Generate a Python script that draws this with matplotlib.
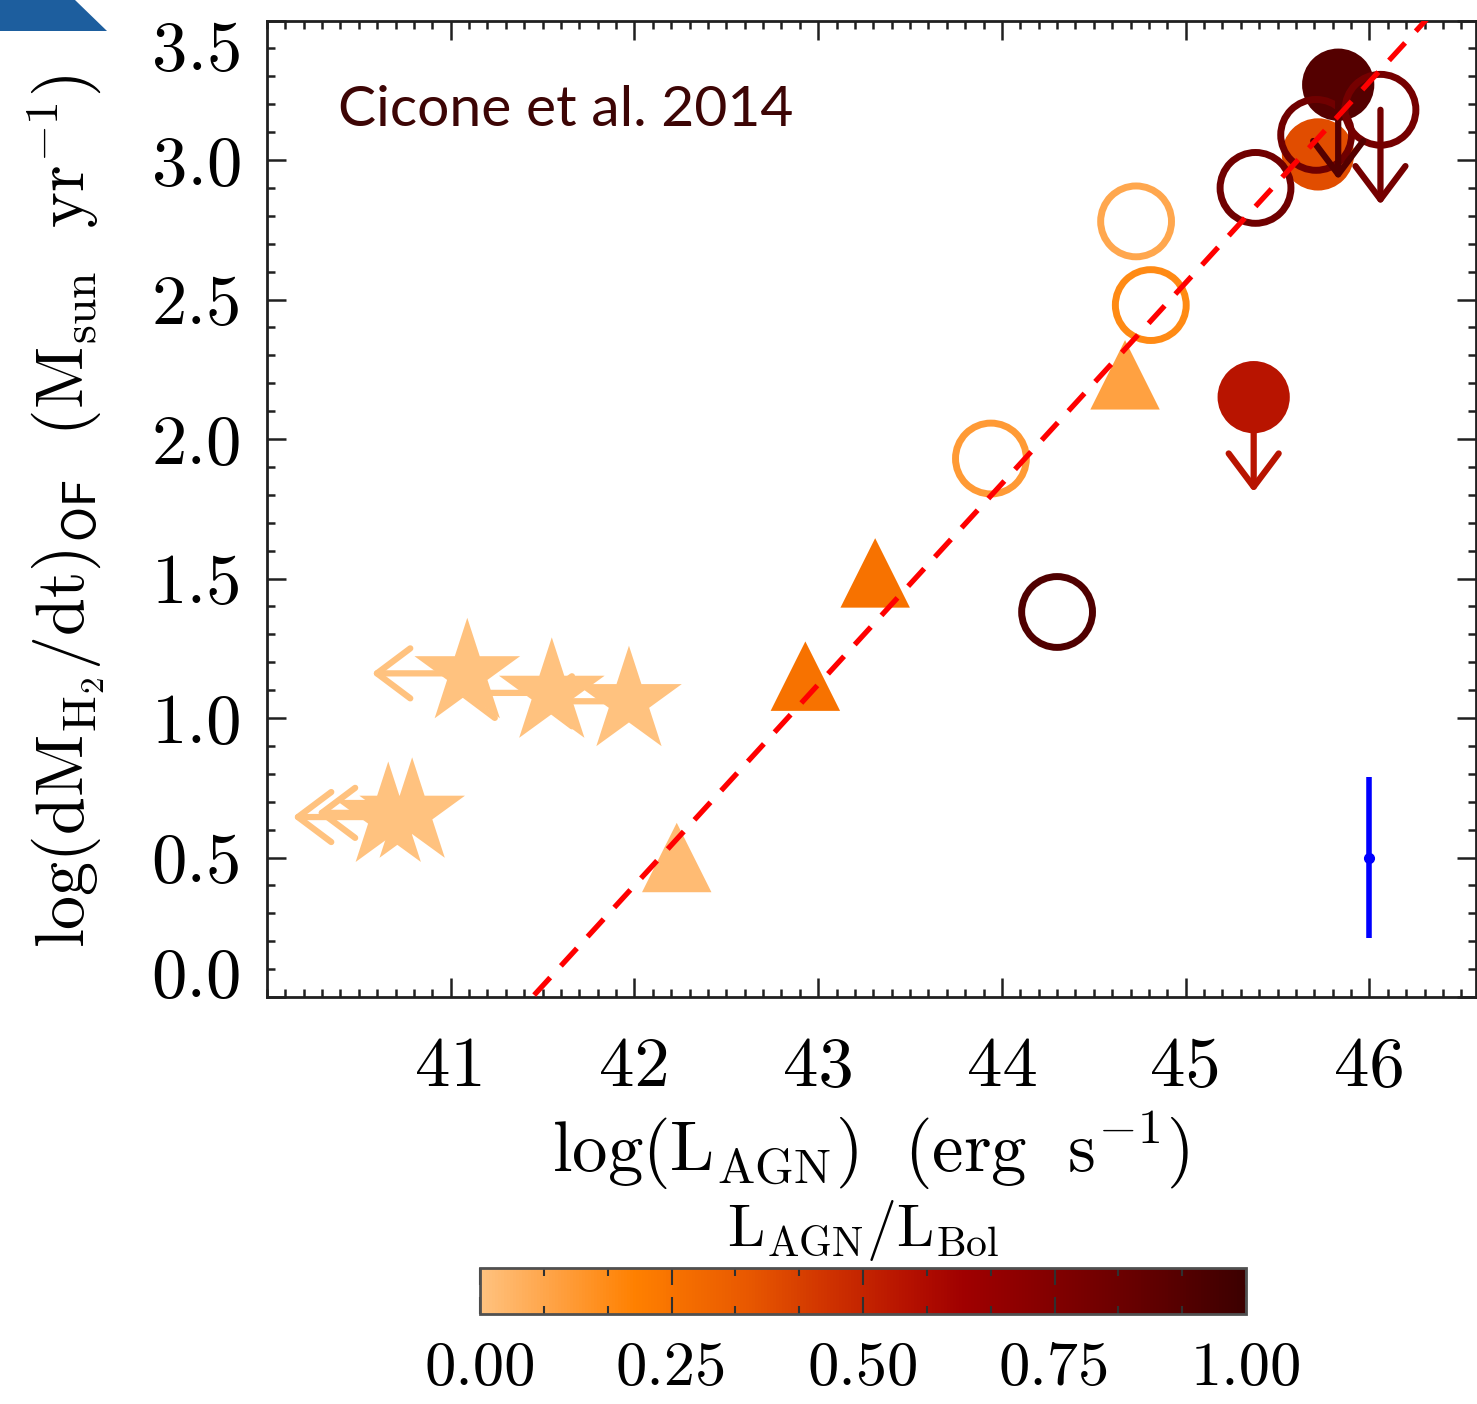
import numpy as np
import matplotlib
matplotlib.use('Agg')
import matplotlib.pyplot as plt
from matplotlib.colors import LinearSegmentedColormap, Normalize
from matplotlib.cm import ScalarMappable
from matplotlib.patches import Polygon
from matplotlib.ticker import MultipleLocator, FixedLocator, FormatStrFormatter

plt.rcParams['font.family'] = 'serif'
plt.rcParams['font.serif'] = ['cmr10']
plt.rcParams['mathtext.fontset'] = 'cm'
plt.rcParams['axes.unicode_minus'] = False

# low-luminosity AGN (upper limits on L_AGN)
star_lagn = [41.09, 41.55, 41.97, 40.66, 40.79]
star_mdot = [1.16, 1.09, 1.06, 0.645, 0.66]
star_frac = [0.0, 0.0, 0.0, 0.0, 0.0]

tri_lagn = [42.23, 42.93, 43.31, 44.67]
tri_mdot = [0.50, 1.15, 1.52, 2.23]
tri_frac = [0.02, 0.25, 0.25, 0.10]

open_lagn = [43.94, 44.73, 44.81, 44.30, 45.38, 45.71, 46.06]
open_mdot = [1.93, 2.78, 2.48, 1.38, 2.90, 3.09, 3.18]
open_frac = [0.12, 0.08, 0.17, 0.93, 0.82, 0.82, 0.80]
open_ulim = [False, False, False, False, False, False, True]

fill_lagn = [45.72, 45.83, 45.37]
fill_mdot = [3.02, 3.27, 2.15]
fill_frac = [0.38, 0.92, 0.55]
fill_ulim = [False, True, True]

# best-fit relation log(Mdot) = a*log(L_AGN) + b
fit_slope = 0.72
fit_icpt = -29.84

# typical uncertainty
err_lagn = 46.0
err_mdot = 0.5
err_size = 0.29

x_ticks = [41, 42, 43, 44, 45, 46]
y_ticks = [0.0, 0.5, 1.0, 1.5, 2.0, 2.5, 3.0, 3.5]
cb_ticks = [0.0, 0.25, 0.5, 0.75, 1.0]

xlim_lo, xlim_hi = 40.0, 46.58
ylim_lo, ylim_hi = 0.0, 3.5
xlim_arrow = 0.52
ylim_arrow = 0.34

cmap = LinearSegmentedColormap.from_list('lagn_frac', [
    (0.00, '#ffc27f'), (0.10, '#ffa040'), (0.20, '#ff8000'),
    (0.35, '#e85800'), (0.45, '#d03400'), (0.55, '#b81400'),
    (0.63, '#a00000'), (0.75, '#820000'), (0.88, '#600000'),
    (1.00, '#3c0000')])
norm = Normalize(0, 1)

W, H = 1477, 1404
fig = plt.figure(figsize=(W / 100, H / 100), dpi=100)
ax = fig.add_axes([267 / W, 1 - 997 / H, 1209 / W, 976.5 / H])


def limit_arrow(x, y, dx, dy, color, z):
    ax.annotate('', xy=(x + dx, y + dy), xytext=(x, y), zorder=z,
                arrowprops=dict(arrowstyle='->,head_length=0.6,head_width=0.45',
                                lw=4.5, color=color, shrinkA=0, shrinkB=0,
                                mutation_scale=40))


# stars with arrows pointing to lower luminosity
for x, y, f in zip(star_lagn, star_mdot, star_frac):
    limit_arrow(x, y, -xlim_arrow, 0, cmap(norm(f)), 3)
ax.scatter(star_lagn, star_mdot, marker='*', s=80**2, c=star_frac,
           cmap=cmap, norm=norm, edgecolors='none', zorder=4)

ax.scatter(tri_lagn, tri_mdot, marker='^', s=50**2, c=tri_frac,
           cmap=cmap, norm=norm, edgecolors='none', zorder=4)

ax.scatter(fill_lagn, fill_mdot, marker='o', s=52**2, c=fill_frac,
           cmap=cmap, norm=norm, edgecolors='none', zorder=4)
for x, y, f, ul in zip(fill_lagn, fill_mdot, fill_frac, fill_ulim):
    if ul:
        limit_arrow(x, y, 0, -ylim_arrow, cmap(norm(f)), 5.5)

ax.scatter(open_lagn, open_mdot, marker='o', s=51**2, facecolors='none',
           edgecolors=cmap(norm(open_frac)), linewidths=5, zorder=5)
for x, y, f, ul in zip(open_lagn, open_mdot, open_frac, open_ulim):
    if ul:
        limit_arrow(x, y, 0, -ylim_arrow, cmap(norm(f)), 5.5)

xfit = np.array([xlim_lo, xlim_hi])
ax.plot(xfit, fit_slope * xfit + fit_icpt, color='#ff0000', lw=3.8,
        dashes=(4.5, 3), zorder=6)

ax.errorbar([err_lagn], [err_mdot], yerr=[err_size], fmt='o', ms=7,
            color='#0000ff', ecolor='#0000ff', elinewidth=4, capsize=0,
            zorder=6)

ax.text(0.0587, 0.908, 'Cicone et al. 2014', transform=ax.transAxes,
        family='Lato', fontsize=41, color='#3d0505', ha='left', va='center')

ax.set_xlim(xlim_lo, xlim_hi)
ax.set_ylim(ylim_lo, ylim_hi)
ax.xaxis.set_major_locator(FixedLocator(x_ticks))
ax.xaxis.set_minor_locator(MultipleLocator(0.1))
ax.yaxis.set_major_locator(FixedLocator(y_ticks))
ax.yaxis.set_minor_locator(MultipleLocator(0.1))
ax.yaxis.set_major_formatter(FormatStrFormatter('%.1f'))
ax.xaxis.set_major_formatter(FormatStrFormatter('%d'))
ax.tick_params(which='both', direction='in', top=True, right=True,
               width=1.8, color='#202020', labelsize=51)
ax.tick_params(which='major', length=14)
ax.tick_params(which='minor', length=6)
ax.tick_params(axis='x', pad=28)
ax.tick_params(axis='y', pad=18)
for sp in ax.spines.values():
    sp.set_linewidth(2)
    sp.set_color('#202020')

# keep the end labels of the y axis inside the frame
yt = ax.yaxis.get_major_ticks()
yt[0].label1.set_va('baseline')
yt[-1].label1.set_va('top')

ax.set_xlabel(r'$\mathrm{log(L_{AGN})\ \ (erg\ \ s^{-1})}$', fontsize=51)
ax.xaxis.label.set(va='center')
ax.xaxis.set_label_coords(0.499, -0.157)
ax.set_ylabel(r'$\mathrm{log(dM_{H_2}/dt)_{\mathsf{OF}}\ \ (M_{sun}\ \ yr^{-1})}$',
              fontsize=49)
ax.yaxis.label.set(va='center', rotation_mode='default')
ax.yaxis.set_label_coords(-0.167, 0.497)

# colour bar for L_AGN / L_Bol
cax = fig.add_axes([480 / W, 1 - 1314 / H, 766 / W, 46 / H])
cb = fig.colorbar(ScalarMappable(norm=norm, cmap=cmap), cax=cax,
                  orientation='horizontal')
cb.set_ticks(cb_ticks)
cb.ax.xaxis.set_major_formatter(FormatStrFormatter('%.2f'))
cb.ax.xaxis.set_minor_locator(FixedLocator(np.arange(13) / 12))
cb.ax.tick_params(which='both', direction='in', top=True, bottom=True,
                  width=1.5, color='#303030', labelsize=45, pad=20)
cb.ax.tick_params(which='major', length=12)
cb.ax.tick_params(which='minor', length=6)
cb.outline.set_linewidth(2)
cb.outline.set_edgecolor('#505050')
cb.ax.xaxis.set_label_position('top')
cb.set_label(r'$\mathrm{L_{AGN}/L_{Bol}}$', fontsize=43, labelpad=16)

fig.add_artist(Polygon([(0, 1), (75 / W, 1), (107 / W, 1 - 31 / H), (0, 1 - 31 / H)],
                       closed=True, transform=fig.transFigure,
                       facecolor='#1d5e9e', edgecolor='none'))

fig.savefig('out.png', dpi=100)
